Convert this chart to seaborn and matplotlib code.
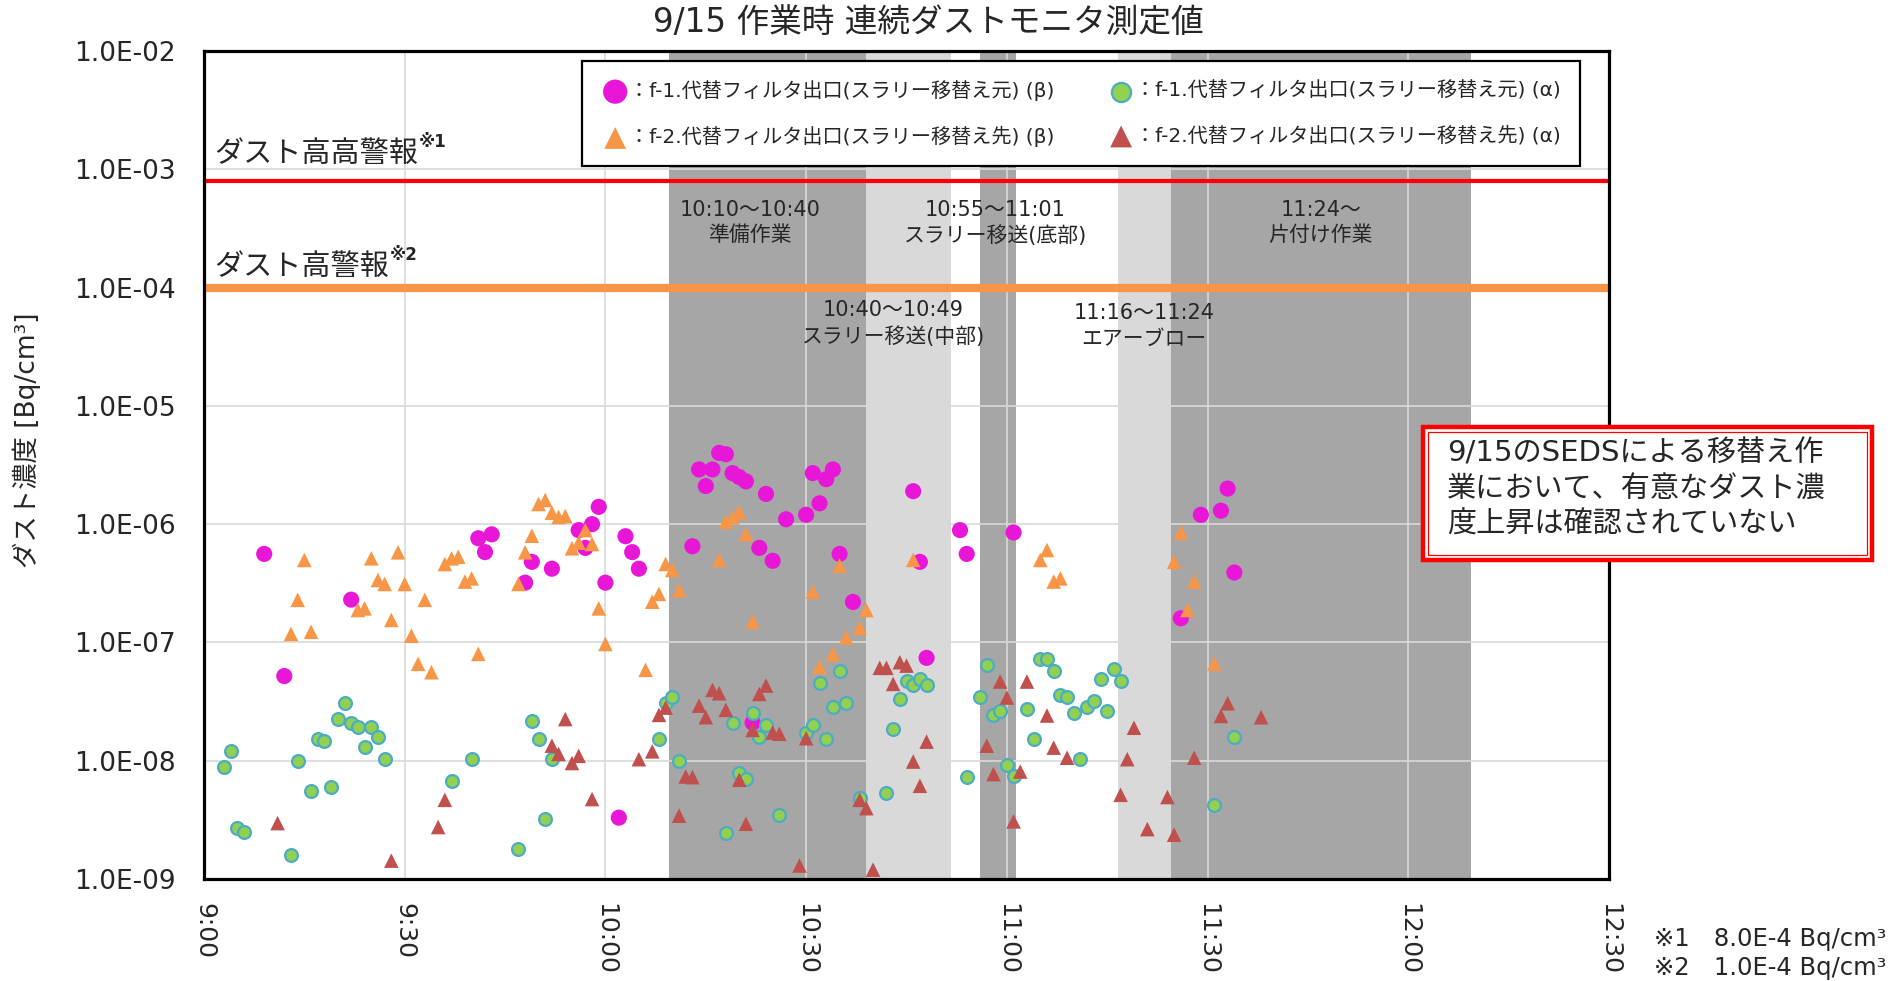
import matplotlib
matplotlib.use("Agg")
import matplotlib.pyplot as plt
import seaborn as sns
from matplotlib.patches import Rectangle

sns.set_theme(style="white")
plt.rcParams['font.family'] = ['DejaVu Sans', 'Noto Sans CJK JP']
plt.rcParams['axes.unicode_minus'] = False

# ---------------- data ----------------
f1_beta_time = ["9:09", "9:12", "9:22", "9:41", "9:42", "9:43", "9:48", "9:49", "9:52", "9:56",
                "9:57", "9:58", "9:59", "10:00", "10:02", "10:03", "10:04", "10:05", "10:13", "10:14",
                "10:15", "10:16", "10:17", "10:18", "10:19", "10:20", "10:21", "10:22", "10:23", "10:24",
                "10:25", "10:27", "10:30", "10:31", "10:32", "10:33", "10:34", "10:35", "10:37", "10:46",
                "10:47", "10:48", "10:53", "10:54", "11:01", "11:26", "11:29", "11:32", "11:33", "11:34"]
f1_beta_value = [5.6e-7, 5.2e-8, 2.3e-7, 7.6e-7, 5.8e-7, 8.2e-7, 3.2e-7, 4.8e-7, 4.2e-7, 8.9e-7,
                 6.3e-7, 1.0e-6, 1.4e-6, 3.2e-7, 3.3e-9, 7.9e-7, 5.8e-7, 4.2e-7, 6.5e-7, 2.9e-6,
                 2.1e-6, 2.9e-6, 4.0e-6, 3.9e-6, 2.7e-6, 2.5e-6, 2.3e-6, 2.1e-8, 6.3e-7, 1.8e-6,
                 4.9e-7, 1.1e-6, 1.2e-6, 2.7e-6, 1.5e-6, 2.4e-6, 2.9e-6, 5.6e-7, 2.2e-7, 1.9e-6,
                 4.8e-7, 7.4e-8, 8.9e-7, 5.6e-7, 8.5e-7, 1.6e-7, 1.2e-6, 1.3e-6, 2.0e-6, 3.9e-7]

f1_alpha_time = ["9:03", "9:04", "9:05", "9:06", "9:13", "9:14", "9:16", "9:17", "9:18", "9:19",
                 "9:20", "9:21", "9:22", "9:23", "9:24", "9:25", "9:26", "9:27", "9:37", "9:40",
                 "9:47", "9:49", "9:50", "9:51", "9:52", "10:08", "10:09", "10:10", "10:11", "10:18",
                 "10:19", "10:20", "10:21", "10:22", "10:23", "10:24", "10:26", "10:30", "10:31", "10:32",
                 "10:33", "10:34", "10:35", "10:36", "10:38", "10:42", "10:43", "10:44", "10:45", "10:46",
                 "10:47", "10:48", "10:54", "10:56", "10:57", "10:58", "10:59", "11:00", "11:01", "11:03",
                 "11:04", "11:05", "11:06", "11:07", "11:08", "11:09", "11:10", "11:11", "11:12", "11:13",
                 "11:14", "11:15", "11:16", "11:17", "11:31", "11:34"]
f1_alpha_value = [8.9e-9, 1.21e-8, 2.7e-9, 2.5e-9, 1.6e-9, 1.0e-8, 5.6e-9, 1.53e-8, 1.47e-8, 6.0e-9,
                  2.26e-8, 3.08e-8, 2.09e-8, 1.93e-8, 1.31e-8, 1.93e-8, 1.59e-8, 1.04e-8, 6.8e-9, 1.04e-8,
                  1.8e-9, 2.17e-8, 1.53e-8, 3.2e-9, 1.04e-8, 1.53e-8, 3.08e-8, 3.47e-8, 1.0e-8, 2.46e-9,
                  2.07e-8, 7.85e-9, 7.03e-9, 2.55e-8, 1.58e-8, 2.01e-8, 3.49e-9, 1.73e-8, 2.01e-8, 4.52e-8,
                  1.53e-8, 2.83e-8, 5.74e-8, 3.06e-8, 4.8e-9, 5.33e-9, 1.86e-8, 3.34e-8, 4.7e-8, 4.37e-8,
                  4.92e-8, 4.37e-8, 7.3e-9, 3.45e-8, 6.4e-8, 2.43e-8, 2.62e-8, 9.2e-9, 7.36e-9, 2.73e-8,
                  1.53e-8, 7.25e-8, 7.25e-8, 5.74e-8, 3.6e-8, 3.45e-8, 2.54e-8, 1.04e-8, 2.83e-8, 3.21e-8,
                  4.92e-8, 2.62e-8, 5.97e-8, 4.7e-8, 4.25e-9, 1.59e-8]

f2_beta_time = ["9:13", "9:14", "9:15", "9:16", "9:23", "9:24", "9:25", "9:26", "9:27", "9:28",
                "9:29", "9:30", "9:31", "9:32", "9:33", "9:34", "9:36", "9:37", "9:38", "9:39",
                "9:40", "9:41", "9:47", "9:48", "9:49", "9:50", "9:51", "9:52", "9:53", "9:54",
                "9:55", "9:56", "9:57", "9:58", "9:59", "10:00", "10:06", "10:07", "10:08", "10:09",
                "10:10", "10:11", "10:17", "10:18", "10:19", "10:20", "10:21", "10:22", "10:31", "10:32",
                "10:34", "10:35", "10:36", "10:38", "10:39", "10:46", "11:05", "11:06", "11:07", "11:08",
                "11:25", "11:26", "11:27", "11:28", "11:31"]
f2_beta_value = [1.18e-7, 2.29e-7, 4.98e-7, 1.23e-7, 1.88e-7, 1.94e-7, 5.14e-7, 3.37e-7, 3.12e-7, 1.55e-7,
                 5.78e-7, 3.12e-7, 1.14e-7, 6.6e-8, 2.29e-7, 5.6e-8, 4.6e-7, 5.14e-7, 5.3e-7, 3.27e-7,
                 3.48e-7, 8.0e-8, 3.12e-7, 5.78e-7, 7.98e-7, 1.48e-6, 1.6e-6, 1.25e-6, 1.15e-6, 1.17e-6,
                 6.25e-7, 6.97e-7, 8.9e-7, 6.8e-7, 1.94e-7, 9.7e-8, 5.86e-8, 2.21e-7, 2.57e-7, 4.6e-7,
                 4.1e-7, 2.77e-7, 4.98e-7, 1.05e-6, 1.14e-6, 1.26e-6, 8.24e-7, 1.5e-7, 2.69e-7, 6.2e-8,
                 7.95e-8, 4.46e-7, 1.1e-7, 1.33e-7, 1.88e-7, 4.98e-7, 4.98e-7, 6.04e-7, 3.27e-7, 3.48e-7,
                 4.8e-7, 8.5e-7, 1.88e-7, 3.27e-7, 6.6e-8]

f2_alpha_time = ["9:11", "9:28", "9:35", "9:36", "9:52", "9:53", "9:54", "9:55", "9:56", "9:58",
                 "10:05", "10:07", "10:08", "10:09", "10:11", "10:12", "10:13", "10:14", "10:15", "10:16",
                 "10:17", "10:18", "10:20", "10:21", "10:22", "10:23", "10:24", "10:25", "10:26", "10:29",
                 "10:30", "10:38", "10:39", "10:40", "10:41", "10:42", "10:43", "10:44", "10:45", "10:46",
                 "10:47", "10:48", "10:57", "10:58", "10:59", "11:00", "11:01", "11:02", "11:03", "11:06",
                 "11:07", "11:09", "11:17", "11:18", "11:19", "11:21", "11:24", "11:25", "11:28", "11:32",
                 "11:33", "11:38"]
f2_alpha_value = [2.97e-9, 1.43e-9, 2.75e-9, 4.67e-9, 1.34e-8, 1.14e-8, 2.25e-8, 9.56e-9, 1.1e-8, 4.74e-9,
                  1.03e-8, 1.2e-8, 2.44e-8, 2.81e-8, 3.43e-9, 7.36e-9, 7.26e-9, 2.92e-8, 2.33e-8, 3.97e-8,
                  3.72e-8, 2.69e-8, 6.9e-9, 2.93e-9, 1.82e-8, 3.67e-8, 4.32e-8, 1.73e-8, 1.69e-8, 1.3e-9,
                  1.55e-8, 4.67e-9, 3.97e-9, 1.2e-9, 6.1e-8, 6.1e-8, 4.46e-8, 6.8e-8, 6.37e-8, 9.84e-9,
                  6.14e-9, 1.45e-8, 1.34e-8, 7.71e-9, 4.67e-8, 3.42e-8, 3.07e-9, 8.1e-9, 4.67e-8, 2.41e-8,
                  1.29e-8, 1.06e-8, 5.15e-9, 1.03e-8, 1.9e-8, 2.64e-9, 4.93e-9, 2.37e-9, 1.06e-8, 2.39e-8,
                  3.06e-8, 2.33e-8]

series_labels = ["：f-1.代替フィルタ出口(スラリー移替え元) (β)",
                 "：f-1.代替フィルタ出口(スラリー移替え元) (α)",
                 "：f-2.代替フィルタ出口(スラリー移替え先) (β)",
                 "：f-2.代替フィルタ出口(スラリー移替え先) (α)"]

# work periods (minutes after 9:00)
period_start = [69.5, 99.0, 116.0, 136.6, 144.5]
period_end = [99.0, 111.7, 121.4, 144.5, 189.4]
period_kind = ["dark", "light", "dark", "light", "dark"]
period_text = [("10:10～10:40", "準備作業"),
               ("10:40～10:49", "スラリー移送(中部)"),
               ("10:55～11:01", "スラリー移送(底部)"),
               ("11:16～11:24", "エアーブロー"),
               ("11:24～", "片付け作業")]

alarm_levels = [8.0e-4, 1.0e-4]
alarm_labels = ["ダスト高高警報", "ダスト高警報"]
alarm_marks = ["※1", "※2"]

x_tick_labels = ["9:00", "9:30", "10:00", "10:30", "11:00", "11:30", "12:00", "12:30"]
y_ticks = [1e-9, 1e-8, 1e-7, 1e-6, 1e-5, 1e-4, 1e-3, 1e-2]
y_tick_labels = ["1.0E-09", "1.0E-08", "1.0E-07", "1.0E-06", "1.0E-05", "1.0E-04", "1.0E-03", "1.0E-02"]


def to_min(t):
    h, m = t.split(":")
    return (int(h) - 9) * 60 + int(m)


# ---------------- figure ----------------
W, H = 1901, 981
fig = plt.figure(figsize=(W / 100, H / 100), dpi=100)
fig.patch.set_facecolor("white")
ax = fig.add_axes([204 / W, 1 - 879 / H, 1405 / W, 828 / H])
ax.set_facecolor("white")
ax.set_yscale("log")

shade = {"dark": "#A6A6A6", "light": "#D9D9D9"}
for s0, s1, k in zip(period_start, period_end, period_kind):
    ax.axvspan(s0, s1, color=shade[k], lw=0, zorder=0.3)

ax.set_axisbelow(True)
ax.grid(True, which="major", color="#D9D9D9", lw=1.2)
ax.minorticks_off()

# threshold lines
ax.axhline(alarm_levels[0], color="#FF0000", lw=3.0, zorder=2)
ax.axhline(alarm_levels[1], color="#F79646", lw=6.0, zorder=2)

# scatter series
sns.scatterplot(x=[to_min(t) for t in f1_beta_time], y=f1_beta_value, ax=ax, marker="o",
                s=135, color="#E817D8", edgecolor="none", linewidth=0, label=series_labels[0], zorder=3)
sns.scatterplot(x=[to_min(t) for t in f1_alpha_time], y=f1_alpha_value, ax=ax, marker="o",
                s=85, color="#92D050", edgecolor="#4BACC6", linewidth=1.6, label=series_labels[1], zorder=4)
sns.scatterplot(x=[to_min(t) for t in f2_beta_time], y=f2_beta_value, ax=ax, marker="^",
                s=110, color="#F79646", edgecolor="none", linewidth=0, label=series_labels[2], zorder=5)
sns.scatterplot(x=[to_min(t) for t in f2_alpha_time], y=f2_alpha_value, ax=ax, marker="^",
                s=110, color="#C0504D", edgecolor="none", linewidth=0, label=series_labels[3], zorder=6)

ax.set_xlim(0, 210)
ax.set_ylim(1e-9, 1e-2)
ax.set_xticks(range(0, 211, 30))
ax.set_xticklabels(x_tick_labels, rotation=-90, ha="center", va="top", fontsize=18)
ax.set_yticks(y_ticks)
ax.set_yticklabels(y_tick_labels, fontsize=19)
ax.tick_params(axis="x", length=0, pad=17)
ax.tick_params(axis="y", length=0, pad=20)
ax.set_xlabel("")
ax.set_ylabel("")
for sp in ax.spines.values():
    sp.set_color("black")
    sp.set_linewidth(2.3)
    sp.set_zorder(10)

# legend
handles, labels = ax.get_legend_handles_labels()
order = [0, 2, 1, 3]
leg = ax.legend([handles[i] for i in order], [labels[i] for i in order], ncol=2,
                loc="upper left", bbox_to_anchor=(0.269, 0.988),
                fontsize=14.5, frameon=True, fancybox=False, framealpha=1, edgecolor="black",
                borderpad=0.95, labelspacing=1.25, handletextpad=0.0, handlelength=1.4,
                columnspacing=2.6, markerscale=1.5, borderaxespad=0)
leg.get_frame().set_linewidth(1.6)
leg.set_zorder(20)

# alarm labels
t1 = ax.text(1.6, 1.35e-3, alarm_labels[0], fontsize=21, ha="left", va="center", zorder=7)
ax.annotate(alarm_marks[0], xy=(1.0, 0.93), xycoords=t1, fontsize=12, fontweight="bold",
            ha="left", va="center", zorder=7)
t2 = ax.text(1.6, 1.5e-4, alarm_labels[1], fontsize=21, ha="left", va="center", zorder=7)
ax.annotate(alarm_marks[1], xy=(1.0, 0.93), xycoords=t2, fontsize=12, fontweight="bold",
            ha="left", va="center", zorder=7)

# period labels
label_pos = [(81.6, 10 ** -3.347, 10 ** -3.558),
             (103.0, 10 ** -4.192, 10 ** -4.412),
             (118.3, 10 ** -3.347, 10 ** -3.558),
             (140.5, 10 ** -4.218, 10 ** -4.43),
             (166.9, 10 ** -3.347, 10 ** -3.558)]
for (l1, l2), (xx, y1, y2) in zip(period_text, label_pos):
    ax.text(xx, y1, l1, fontsize=15, ha="center", va="center", zorder=7)
    ax.text(xx, y2, l2, fontsize=15, ha="center", va="center", zorder=7)

# title and axis label
fig.text(928 / W, 1 - 22 / H, "9/15 作業時 連続ダストモニタ測定値", fontsize=23.5, ha="center", va="center")
fig.text(27 / W, 1 - 440 / H, "ダスト濃度 [Bq/cm³]", fontsize=19, rotation=90, ha="center", va="center")

# comment box with double red border
bx0, bx1, by0, by1 = 1423, 1872, 427, 560
fig.add_artist(Rectangle((bx0 / W, 1 - by1 / H), (bx1 - bx0) / W, (by1 - by0) / H,
                         transform=fig.transFigure, facecolor="white", edgecolor="#FF0000", lw=3.2, zorder=30))
ins = 5
fig.add_artist(Rectangle(((bx0 + ins) / W, 1 - (by1 - ins) / H), (bx1 - bx0 - 2 * ins) / W,
                         (by1 - by0 - 2 * ins) / H, transform=fig.transFigure, facecolor="none",
                         edgecolor="#FF0000", lw=0.9, zorder=31))
box_lines = ["9/15のSEDSによる移替え作", "業において、有意なダスト濃", "度上昇は確認されていない"]
for txt, yy in zip(box_lines, [454, 489, 525]):
    fig.text(1447 / W, 1 - yy / H, txt, fontsize=21, ha="left", va="center", zorder=32)

# footnotes
fig.text(1886 / W, 1 - 939 / H, "※1　8.0E-4 Bq/cm³", fontsize=17.5, ha="right", va="center")
fig.text(1886 / W, 1 - 968 / H, "※2　1.0E-4 Bq/cm³", fontsize=17.5, ha="right", va="center")

fig.savefig("out.png", dpi=100, facecolor="white")
